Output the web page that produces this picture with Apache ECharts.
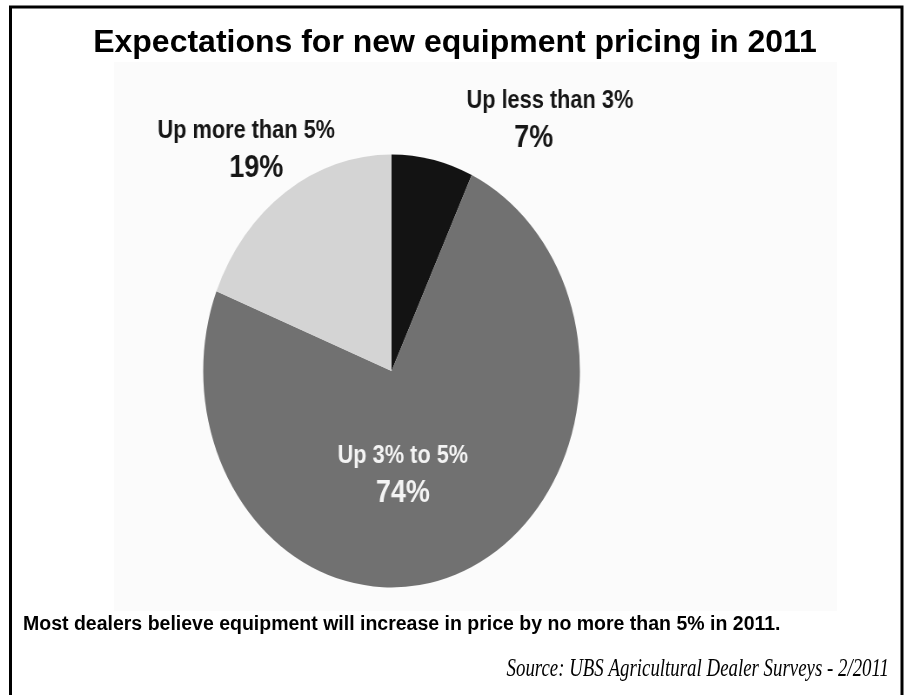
<!DOCTYPE html>
<html>
<head>
<meta charset="utf-8">
<script src="https://cdn.jsdelivr.net/npm/echarts@6/dist/echarts.min.js"></script>
<style>
  html, body { margin: 0; padding: 0; background: #ffffff; }
  #outer { position: absolute; left: 0; top: 0; width: 904px; height: 695px; }
  #pie { position: absolute; left: 114px; top: 63px; width: 831px; height: 548px;
         transform: scaleX(0.87); transform-origin: 0 0; }
</style>
</head>
<body>
<div id="outer"></div>
<div id="pie"></div>
<script>
// ---- data ----
const titleText = 'Expectations for new equipment pricing in 2011';
const categories = ['Up less than 3%', 'Up 3% to 5%', 'Up more than 5%'];
const values = [7, 74, 19];
const captionText = 'Most dealers believe equipment will increase in price by no more than 5% in 2011.';
const sourceText = 'Source: UBS Agricultural Dealer Surveys - 2/2011';

// ---- styles ----
const sliceColors = ['#131313', '#717171', '#d4d4d4'];
const labelColors = ['#161616', '#f4f4f4', '#161616'];
const SANS = '"Liberation Sans", Arial, Helvetica, sans-serif';
const SERIF = '"Liberation Serif", "Times New Roman", serif';

// ---- outer frame, title, caption, source ----
const outer = echarts.init(document.getElementById('outer'), null, { renderer: 'canvas' });
outer.setOption({
  backgroundColor: '#ffffff',
  animation: false,
  graphic: [
    { type: 'rect', shape: { x: 114, y: 62, width: 723, height: 549 },
      style: { fill: '#fbfbfb' }, silent: true },
    { type: 'rect', shape: { x: 10.5, y: 7, width: 891.5, height: 720 },
      style: { fill: 'none', stroke: '#000000', lineWidth: 3 }, silent: true },
    { type: 'text', x: 455, y: 43,
      style: { text: titleText, font: 'bold 32px ' + SANS, fill: '#000000',
               textAlign: 'center', textVerticalAlign: 'middle' } },
    { type: 'text', x: 23, y: 625,
      style: { text: captionText, font: 'bold 19.5px ' + SANS, fill: '#000000',
               textAlign: 'left', textVerticalAlign: 'middle' } },
    { type: 'text', x: 889, y: 670, scaleX: 0.77,
      style: { text: sourceText, font: 'italic 24.5px ' + SERIF, fill: '#000000',
               textAlign: 'right', textVerticalAlign: 'middle' } }
  ]
});

// ---- pie (drawn wide, squeezed horizontally like the reference) ----
const pie = echarts.init(document.getElementById('pie'), null, { renderer: 'canvas' });
const labelPos = [
  { x: 501, y: 57 },
  { x: 332, y: 411.5 },
  { x: 152, y: 86.5 }
];
const valuePad = [[0, 37, 0, 0], [0, 0, 0, 0], [0, 0, 0, 23]];
pie.setOption({
  backgroundColor: 'transparent',
  animation: false,
  series: [{
    type: 'pie',
    center: [319, 308],
    radius: 216.5,
    startAngle: 90,
    clockwise: true,
    avoidLabelOverlap: false,
    itemStyle: { borderWidth: 0 },
    labelLine: { show: false },
    emphasis: { disabled: true },
    data: categories.map((name, i) => ({
      name: name,
      value: values[i],
      itemStyle: { color: sliceColors[i] },
      label: {
        color: labelColors[i],
        rich: {
          n: { fontFamily: SANS, fontWeight: 'bold', fontSize: 25, lineHeight: 37 },
          v: { fontFamily: SANS, fontWeight: 'bold', fontSize: 31, lineHeight: 37, padding: valuePad[i] }
        }
      }
    })),
    label: {
      show: true,
      position: 'outside',
      formatter: p => '{n|' + p.name + '}\n{v|' + p.value + '%}'
    },
    labelLayout: p => ({
      x: labelPos[p.dataIndex].x,
      y: labelPos[p.dataIndex].y,
      align: 'center',
      verticalAlign: 'middle'
    })
  }]
});
</script>
</body>
</html>
